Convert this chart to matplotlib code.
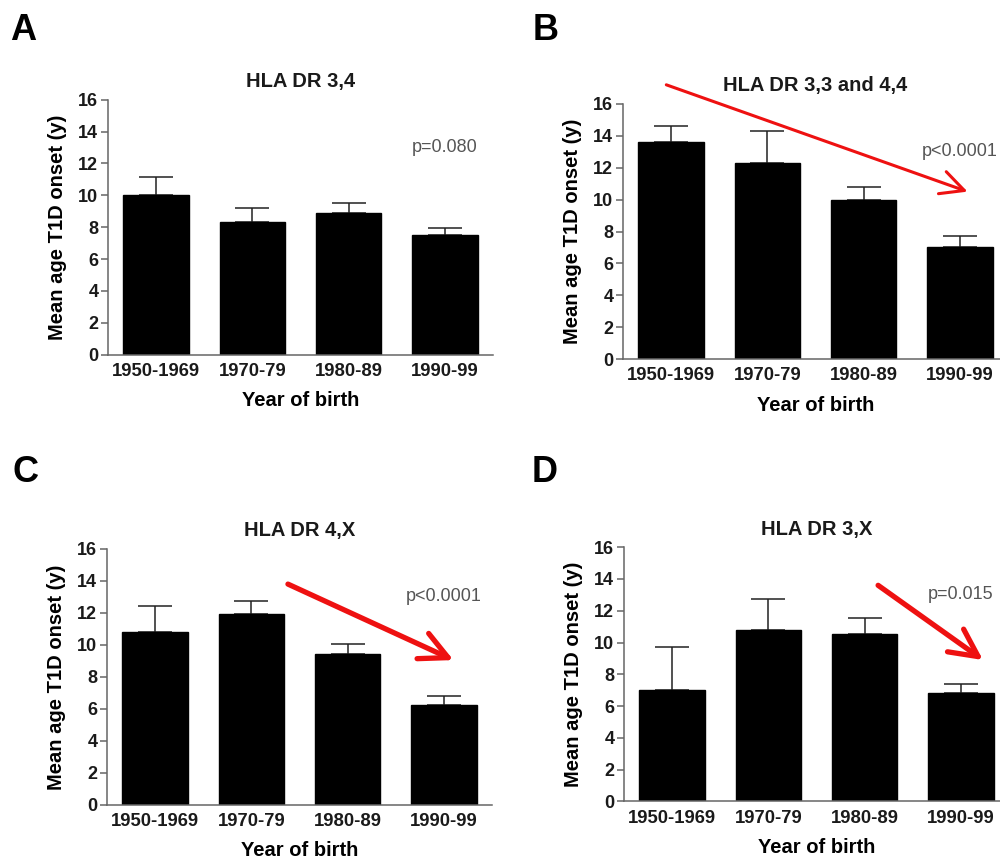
"""Mean age at T1D onset by year of birth, per HLA DR genotype (4 panels)."""

import numpy as np
import matplotlib
matplotlib.use("Agg")
import matplotlib.pyplot as plt

plt.rcParams['font.family'] = ['Liberation Sans', 'DejaVu Sans']

# Data
categories = ['1950-1969', '1970-79', '1980-89', '1990-99']
panel_letters = ['A', 'B', 'C', 'D']
titles = ['HLA DR 3,4', 'HLA DR 3,3 and 4,4', 'HLA DR 4,X', 'HLA DR 3,X']

mean_a = [10.0, 8.3, 8.9, 7.5]
sem_a = [1.15, 0.9, 0.6, 0.42]
mean_b = [13.6, 12.3, 10.0, 7.05]
sem_b = [1.0, 2.0, 0.78, 0.64]
mean_c = [10.8, 11.95, 9.4, 6.25]
sem_c = [1.63, 0.78, 0.66, 0.58]
mean_d = [7.0, 10.8, 10.55, 6.85]
sem_d = [2.72, 1.95, 0.98, 0.54]

p_labels = ['p=0.080', 'p<0.0001', 'p<0.0001', 'p=0.015']

# trend arrows (data coords: start x, start y, end x, end y); None = no arrow
arrows = [None,
          (-0.05, 17.2, 3.08, 10.5),
          (1.38, 13.8, 3.10, 9.05),
          (2.14, 13.6, 3.23, 8.9)]
arrow_widths = [0, 2.2, 3.8, 3.8]
arrow_heads = [0, 21, 25, 25]

means = [mean_a, mean_b, mean_c, mean_d]
sems = [sem_a, sem_b, sem_c, sem_d]

# axes rectangles in figure fraction [left, bottom, width, height]
rects = [[0.108, 0.587, 0.385, 0.297],
         [0.623, 0.582, 0.385, 0.297],
         [0.107, 0.063, 0.385, 0.298],
         [0.624, 0.067, 0.385, 0.296]]
letter_pos = [(0.010, 0.953), (0.533, 0.953), (0.012, 0.439), (0.532, 0.439)]

fig = plt.figure(figsize=(10, 8.59), dpi=100)
x = np.arange(len(categories))

for i in range(4):
    ax = fig.add_axes(rects[i])
    m = np.array(means[i])
    e = np.array(sems[i])
    ax.bar(x, m, width=0.68, color='black', edgecolor='black', zorder=2)
    ax.errorbar(x, m, yerr=[np.zeros_like(e), e], fmt='none', ecolor='#222222',
                elinewidth=1.1, capsize=12, capthick=1.1, zorder=1)

    ax.set_xlim(-0.5, 3.5)
    ax.set_ylim(0, 16)
    ax.set_yticks(np.arange(0, 17, 2))
    ax.set_xticks(x)
    ax.set_xticklabels(categories)
    for s in ['top', 'right']:
        ax.spines[s].set_visible(False)
    for s in ['left', 'bottom']:
        ax.spines[s].set_color('#666666')
        ax.spines[s].set_linewidth(1.1)
    ax.tick_params(axis='y', direction='out', length=5, width=1.1, color='#666666',
                   pad=2, labelsize=13)
    ax.tick_params(axis='x', length=0, pad=6, labelsize=13.3)
    for lbl in ax.get_xticklabels() + ax.get_yticklabels():
        lbl.set_fontweight('bold')
        lbl.set_color('#1a1a1a')

    ax.set_ylabel('Mean age T1D onset (y)', fontsize=14.5, fontweight='bold', labelpad=8)
    ax.set_xlabel('Year of birth', fontsize=14.5, fontweight='bold', labelpad=8)
    ax.set_title(titles[i], fontsize=14.5, fontweight='bold', pad=9, color='#1a1a1a')

    ax.text(3.0, 13.0, p_labels[i], ha='center', va='center', fontsize=13,
            color='#555555')

    if arrows[i] is not None:
        x0, y0, x1, y1 = arrows[i]
        ax.annotate('', xy=(x1, y1), xytext=(x0, y0), annotation_clip=False,
                    arrowprops=dict(arrowstyle='->,head_length=0.8,head_width=0.4',
                                    color='#ee1111', lw=arrow_widths[i],
                                    mutation_scale=arrow_heads[i], shrinkA=0, shrinkB=0))

    lx, ly = letter_pos[i]
    fig.text(lx, ly, panel_letters[i], fontsize=26, fontweight='bold', va='baseline')

plt.savefig('out.png', dpi=100)
